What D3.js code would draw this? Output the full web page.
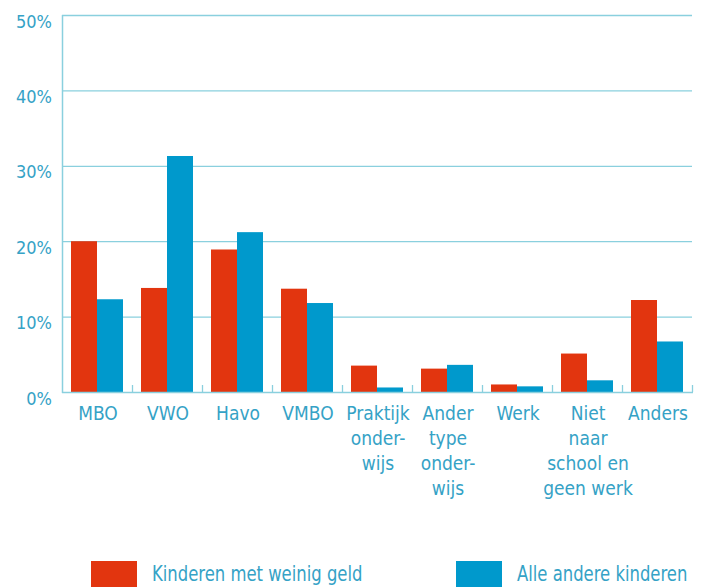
<!DOCTYPE html>
<html>
<head>
<meta charset="utf-8">
<script src="https://cdn.jsdelivr.net/npm/d3@7/dist/d3.min.js"></script>
<style>
  body { margin: 0; background: #fff; }
  text { font-family: "DejaVu Sans Condensed", "DejaVu Sans", sans-serif; fill: #35a2c6; }
</style>
</head>
<body>
<div id="chart"></div>
<script>
// categories (multi-line labels)
var categories = ["MBO", "VWO", "Havo", "VMBO", "Praktijk", "Ander", "Werk", "Niet", "Anders"];
var labelLines = [
	["MBO"], ["VWO"], ["Havo"], ["VMBO"],
	["Praktijk", "onder-", "wijs"],
	["Ander", "type", "onder-", "wijs"],
	["Werk"],
	["Niet", "naar", "school en", "geen werk"],
	["Anders"]
];
var weinigGeld = [20.0, 13.8, 18.9, 13.7, 3.5, 3.1, 1.0, 5.1, 12.2];
var andereKinderen = [12.3, 31.3, 21.2, 11.8, 0.6, 3.6, 0.75, 1.55, 6.7];
var seriesNames = ["Kinderen met weinig geld", "Alle andere kinderen"];
var seriesColors = ["#e2350f", "#0099cc"];
var yTicks = [0, 10, 20, 30, 40, 50];

var width = 705, height = 587;
var plotLeft = 62, plotRight = 692, plotTop = 15, plotBottom = 392;

var svg = d3.select("#chart").append("svg")
	.attr("width", width)
	.attr("height", height);

var x = d3.scaleBand().domain(categories).range([plotLeft, plotRight]);
var x1 = d3.scaleBand().domain([0, 1]).range([9, 61]);
var y = d3.scaleLinear().domain([0, 50]).range([plotBottom, plotTop]);

// gridlines
svg.append("g").selectAll("line")
	.data(yTicks.slice(1))
	.enter().append("line")
	.attr("x1", plotLeft).attr("x2", plotRight)
	.attr("y1", function(d) { return y(d) + 0.5; })
	.attr("y2", function(d) { return y(d) + 0.5; })
	.style("stroke", "#8ad0de")
	.style("stroke-width", 1.3);

// y labels
svg.append("g").selectAll("text")
	.data(yTicks)
	.enter().append("text")
	.attr("x", 52)
	.attr("y", function(d) { return y(d) + 12.5; })
	.attr("text-anchor", "end")
	.style("font-size", "18px")
	.text(function(d) { return d + "%"; });

// bars
var data = categories.map(function(c, i) { return { cat: c, vals: [weinigGeld[i], andereKinderen[i]] }; });
var groups = svg.append("g").selectAll("g")
	.data(data)
	.enter().append("g")
	.attr("transform", function(d) { return "translate(" + x(d.cat) + ",0)"; });
groups.selectAll("rect")
	.data(function(d) { return d.vals; })
	.enter().append("rect")
	.attr("x", function(d, i) { return x1(i); })
	.attr("width", x1.bandwidth())
	.attr("y", function(d) { return y(d); })
	.attr("height", function(d) { return plotBottom - y(d); })
	.style("fill", function(d, i) { return seriesColors[i]; });

// axis lines
svg.append("line")
	.attr("x1", plotLeft + 0.5).attr("x2", plotLeft + 0.5)
	.attr("y1", plotTop).attr("y2", plotBottom + 1)
	.style("stroke", "#8ad0de").style("stroke-width", 1.5);
svg.append("line")
	.attr("x1", plotLeft).attr("x2", plotRight + 1)
	.attr("y1", plotBottom + 0.5).attr("y2", plotBottom + 0.5)
	.style("stroke", "#8ad0de").style("stroke-width", 1.5);

// band ticks
var tickX = categories.slice(1).map(function(c) { return x(c); }).concat([plotRight]);
svg.append("g").selectAll("line")
	.data(tickX)
	.enter().append("line")
	.attr("x1", function(d) { return d + 0.5; })
	.attr("x2", function(d) { return d + 0.5; })
	.attr("y1", plotBottom - 7).attr("y2", plotBottom)
	.style("stroke", "#8ad0de").style("stroke-width", 1.3);

// category labels
var labels = svg.append("g").selectAll("text")
	.data(labelLines)
	.enter().append("text")
	.attr("text-anchor", "middle")
	.attr("transform", function(d, i) { return "translate(" + (x(categories[i]) + x.bandwidth() / 2 + 1) + ",420)"; })
	.style("font-size", "19px");
labels.selectAll("tspan")
	.data(function(d) { return d; })
	.enter().append("tspan")
	.attr("x", 0)
	.attr("y", function(d, i) { return i * 25; })
	.text(function(d) { return d; });

// legend
var legendX = [91, 456];
var legend = svg.append("g").selectAll("g")
	.data(seriesNames)
	.enter().append("g")
	.attr("transform", function(d, i) { return "translate(" + legendX[i] + ",561)"; });
legend.append("rect")
	.attr("width", 46).attr("height", 26)
	.style("fill", function(d, i) { return seriesColors[i]; });
legend.append("text")
	.attr("transform", "translate(61,20) scale(0.87,1)")
	.style("font-size", "21px")
	.text(function(d) { return d; });
</script>
</body>
</html>
